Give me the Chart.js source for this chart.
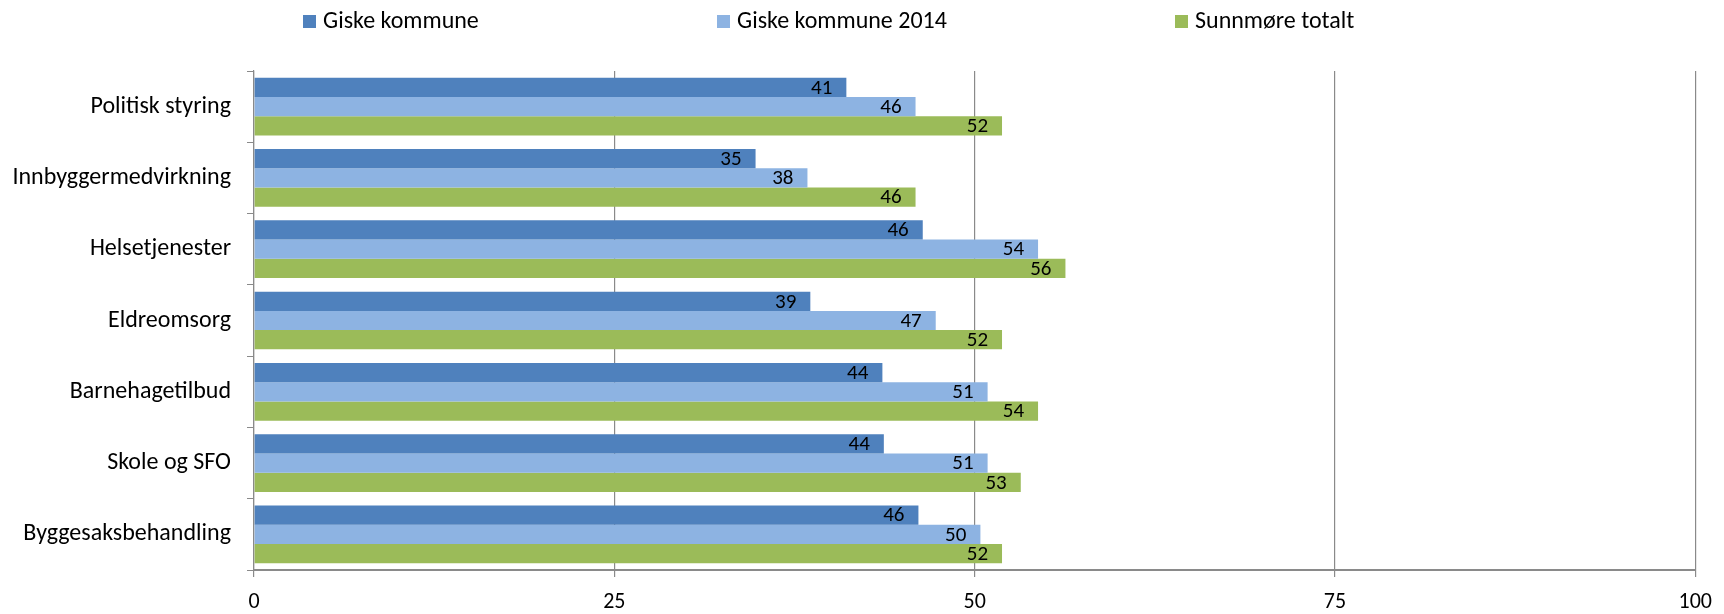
<!DOCTYPE html>
<html>
<head>
<meta charset="utf-8">
<script src="https://cdn.jsdelivr.net/npm/chart.js@4.4.1/dist/chart.umd.min.js"></script>
<style>
  html, body { margin: 0; padding: 0; background: #fff; }
  #wrap { width: 1724px; height: 614px; }
</style>
</head>
<body>
<div id="wrap"><canvas id="mycanvas" width="1724" height="614"></canvas></div>
<script>
var categories = ['Politisk styring', 'Innbyggermedvirkning', 'Helsetjenester', 'Eldreomsorg',
                  'Barnehagetilbud', 'Skole og SFO', 'Byggesaksbehandling'];
var seriesNames = ['Giske kommune', 'Giske kommune 2014', 'Sunnmøre totalt'];
var giske = [41.1, 34.8, 46.4, 38.6, 43.6, 43.7, 46.1];
var giske2014 = [45.9, 38.4, 54.4, 47.3, 50.9, 50.9, 50.4];
var sunnmore = [51.9, 45.9, 56.3, 51.9, 54.4, 53.2, 51.9];
var xTicks = [0, 25, 50, 75, 100];

var colors = ['#4F81BD', '#8DB3E2', '#9BBB59'];
var fontFamily = 'Carlito, Calibri, Lato, sans-serif';
var gridColor = '#8a8a8a';

// legend is drawn by hand, spread out like the original
var legendX = [303, 717, 1175];
var legendPlugin = {
	id: 'spreadLegend',
	afterDraw: function(chart) {
		var ctx = chart.ctx;
		ctx.save();
		ctx.font = '24px ' + fontFamily;
		ctx.textBaseline = 'middle';
		ctx.textAlign = 'left';
		chart.data.datasets.forEach(function(ds, i) {
			ctx.fillStyle = ds.backgroundColor;
			ctx.fillRect(legendX[i], 15, 13, 13);
			ctx.fillStyle = '#000';
			ctx.fillText(ds.label, legendX[i] + 20, 22);
		});
		ctx.restore();
	}
};

// value labels at the inner end of every bar
var valuePlugin = {
	id: 'valueLabels',
	afterDatasetsDraw: function(chart) {
		var ctx = chart.ctx;
		ctx.save();
		ctx.font = '500 21px ' + fontFamily;
		ctx.fillStyle = '#000';
		ctx.textAlign = 'right';
		ctx.textBaseline = 'middle';
		chart.data.datasets.forEach(function(ds, i) {
			var meta = chart.getDatasetMeta(i);
			meta.data.forEach(function(bar, j) {
				ctx.fillText(Math.round(ds.data[j]), bar.x - 14, bar.y + 1);
			});
		});
		ctx.restore();
	}
};

var chartdata = {
	labels: categories,
	datasets: [
		{ label: seriesNames[0], data: giske, backgroundColor: colors[0] },
		{ label: seriesNames[1], data: giske2014, backgroundColor: colors[1] },
		{ label: seriesNames[2], data: sunnmore, backgroundColor: colors[2] }
	]
};

var ctx = document.getElementById('mycanvas');
var barGraph = new Chart(ctx, {
	type: 'bar',
	data: chartdata,
	plugins: [legendPlugin, valuePlugin],
	options: {
		indexAxis: 'y',
		responsive: false,
		animation: false,
		layout: { padding: { left: 0, right: 22, top: 71, bottom: 0 } },
		datasets: {
			bar: { categoryPercentage: 0.81, barPercentage: 1.0, borderWidth: 0 }
		},
		plugins: {
			legend: { display: false },
			tooltip: { enabled: false }
		},
		scales: {
			x: {
				min: 0,
				max: 100,
				afterBuildTicks: function(scale) {
					scale.ticks = xTicks.map(function(v) { return { value: v }; });
				},
				afterFit: function(scale) { scale.height = 44; },
				grid: { color: gridColor, lineWidth: 1.2, tickLength: 7 },
				border: { color: gridColor, width: 2 },
				ticks: { color: '#000', padding: 12, font: { family: fontFamily, size: 22 } }
			},
			y: {
				afterFit: function(scale) { scale.width = 254; },
				grid: { drawOnChartArea: false, offset: true, color: gridColor, tickLength: 7 },
				border: { color: gridColor, width: 1.2 },
				ticks: { color: '#000', padding: 16, font: { family: fontFamily, size: 24 } }
			}
		}
	}
});
</script>
</body>
</html>
